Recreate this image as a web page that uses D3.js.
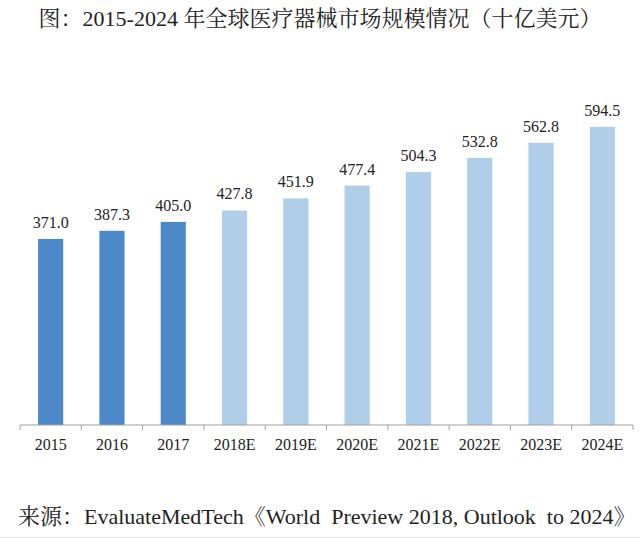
<!DOCTYPE html>
<html><head><meta charset="utf-8">
<script src="https://cdn.jsdelivr.net/npm/d3@7"></script>
<style>
html,body{margin:0;padding:0;background:#fff;}
svg{display:block;}
</style></head>
<body>
<script>
const categories = ["2015","2016","2017","2018E","2019E","2020E","2021E","2022E","2023E","2024E"];
const values = [371.0, 387.3, 405.0, 427.8, 451.9, 477.4, 504.3, 532.8, 562.8, 594.5];
const isActual = [true, true, true, false, false, false, false, false, false, false];
const titleText = "图：2015-2024 年全球医疗器械市场规模情况（十亿美元）";
const sourceText = "来源：EvaluateMedTech《World  Preview 2018, Outlook  to 2024》";

const W = 640, H = 539;
const fontFam = "'Liberation Serif','Times New Roman','Noto Serif CJK SC','Noto Sans CJK SC',serif";
const svg = d3.select("body").append("svg").attr("width", W).attr("height", H);

const left = 20, right = 633, baseY = 425, topY = 74;
const x = d3.scaleBand().domain(categories).range([left, right]).padding(0);
const y = d3.scaleLinear().domain([0, 700]).range([baseY, topY]);
const barW = x.bandwidth() * 0.41;

svg.append("text").attr("x", W/2).attr("y", 26).attr("text-anchor","middle")
  .attr("font-family", fontFam).attr("font-size", 22).attr("fill","#222").text(titleText);

svg.append("g").selectAll("rect").data(categories).join("rect")
  .attr("x", d => x(d) + (x.bandwidth()-barW)/2)
  .attr("y", (d,i) => y(values[i]))
  .attr("width", barW)
  .attr("height", (d,i) => baseY - y(values[i]))
  .attr("fill", (d,i) => isActual[i] ? "#4d88c9" : "#b0cdea");

svg.append("g").selectAll("text").data(categories).join("text")
  .attr("x", d => x(d) + x.bandwidth()/2)
  .attr("y", (d,i) => y(values[i]) - 11)
  .attr("text-anchor","middle").attr("font-family", fontFam).attr("font-size", 16).attr("fill","#222")
  .text((d,i) => values[i].toFixed(1));

const axis = svg.append("g").attr("transform", `translate(0,${baseY})`)
  .call(d3.axisBottom(x).tickSize(0).tickPadding(14));
axis.select(".domain").attr("stroke","#a0a0a0").attr("d", `M${left},0H${right}`);
axis.selectAll("text").attr("font-family", fontFam).attr("font-size", 16).attr("fill","#222");
const bounds = categories.map(c => x(c)).concat([right]);
axis.selectAll(".bt").data(bounds).join("line").attr("class","bt")
  .attr("x1", d => d).attr("x2", d => d).attr("y1", 0).attr("y2", 5).attr("stroke","#a0a0a0");

svg.append("text").attr("x", 18).attr("y", 524)
  .attr("font-family", fontFam).attr("font-size", 22).attr("fill","#222")
  .style("white-space","pre").text(sourceText);
svg.append("line").attr("x1",0).attr("x2",W).attr("y1",537.5).attr("y2",537.5).attr("stroke","#e6e6e6");
</script>
</body></html>
